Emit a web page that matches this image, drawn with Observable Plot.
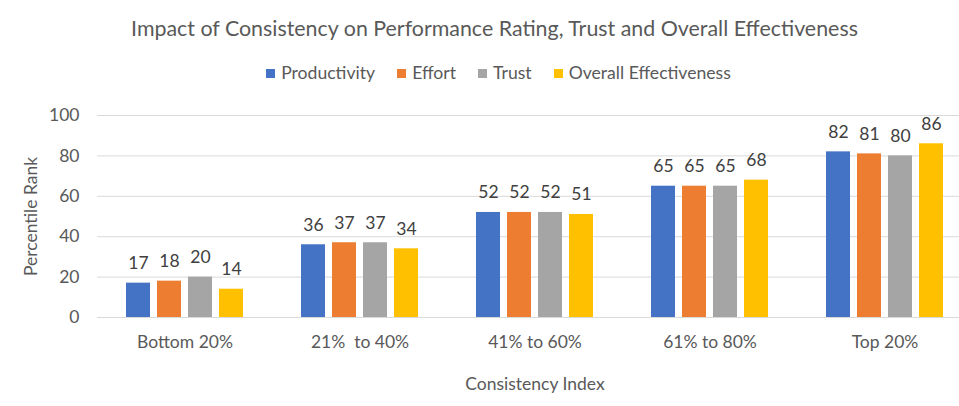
<!DOCTYPE html>
<html><head><meta charset="utf-8">
<script src="https://cdn.jsdelivr.net/npm/d3@7"></script>
<script src="https://cdn.jsdelivr.net/npm/@observablehq/plot@0.6"></script>
<style>
body{margin:0;background:#fff;font-family:Lato,"Open Sans",sans-serif;color:#595959}
#head{position:relative;width:959px;height:95px}
#title{position:absolute;left:30px;right:0;top:15px;line-height:26px;font-size:21.4px;text-align:center;white-space:nowrap}
#legend{position:absolute;left:38px;right:0;top:62px;line-height:22px;font-size:17.6px;display:flex;justify-content:center;gap:22px}
#legend .it{display:flex;align-items:center;gap:6px}
#legend .sw{width:9px;height:9px;display:inline-block}
svg text{white-space:pre}
</style></head><body>
<div id="head">
  <div id="title">Impact of Consistency on Performance Rating, Trust and Overall Effectiveness</div>
  <div id="legend"></div>
</div>
<div id="chart"></div>
<script>
const categories = ["Bottom 20%", "21%  to 40%", "41% to 60%", "61% to 80%", "Top 20%"];
const seriesNames = ["Productivity", "Effort", "Trust", "Overall Effectiveness"];
const productivity = [17, 36, 52, 65, 82];
const effort = [18, 37, 52, 65, 81];
const trust = [20, 37, 52, 65, 80];
const overall = [14, 34, 51, 68, 86];
const colors = ["#4472C4", "#ED7D31", "#A5A5A5", "#FFC000"];
const yTicks = [0, 20, 40, 60, 80, 100];

const seriesValues = [productivity, effort, trust, overall];
const data = [];
categories.forEach((c, i) => seriesNames.forEach((s, j) => data.push({category: c, series: s, value: seriesValues[j][i]})));

const legend = document.getElementById("legend");
seriesNames.forEach((s, j) => {
  const it = document.createElement("div"); it.className = "it";
  const sw = document.createElement("span"); sw.className = "sw"; sw.style.background = colors[j];
  const t = document.createElement("span"); t.textContent = s;
  it.appendChild(sw); it.appendChild(t); legend.appendChild(it);
});

const chart = Plot.plot({
  width: 959, height: 311,
  marginTop: 20, marginBottom: 89, marginLeft: 97, marginRight: 0,
  style: {fontFamily: "Lato, 'Open Sans', sans-serif", fontSize: "17.5px", color: "#595959", background: "#fff"},
  fx: {domain: categories, range: [96.5, 971.5], padding: 0},
  x: {domain: seriesNames, paddingInner: 0.22, paddingOuter: 0.9, axis: null},
  y: {domain: [0, 100]},
  color: {domain: seriesNames, range: colors},
  marks: [
    Plot.ruleY(yTicks, {stroke: "#d9d9d9", strokeWidth: 1}),
    Plot.barY(data, {fx: "category", x: "series", y: "value", fill: "series"}),
    Plot.text(data, {fx: "category", x: "series", y: "value", text: d => String(d.value), lineAnchor: "bottom", dy: -14, fill: "#404040", fontSize: 17.5}),
    Plot.axisY({ticks: yTicks, tickSize: 0, tickPadding: 18, label: "Percentile Rank", labelAnchor: "center", labelArrow: "none", labelOffset: 73, fontSize: 17.5}),
    Plot.axisFx({anchor: "bottom", tickSize: 0, tickPadding: 18, label: "Consistency Index", labelAnchor: "center", labelArrow: "none", labelOffset: 72, fontSize: 17.5})
  ]
});
document.getElementById("chart").appendChild(chart);
</script>
</body></html>
